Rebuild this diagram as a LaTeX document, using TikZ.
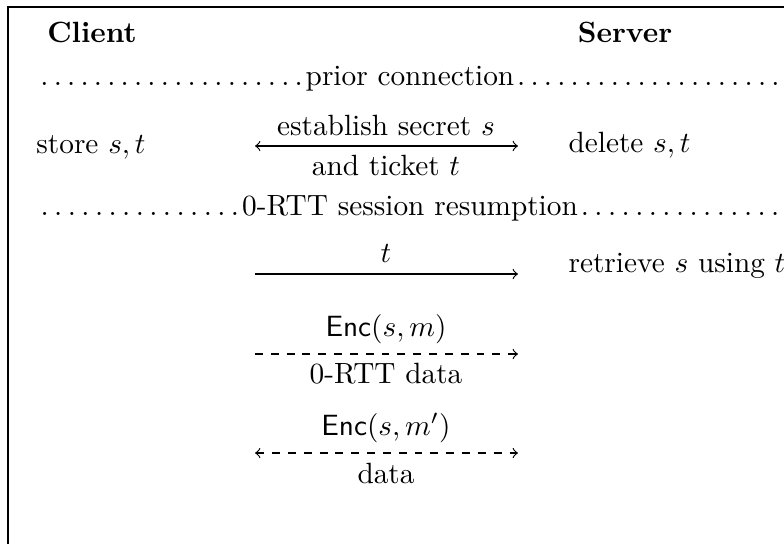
\documentclass[tikz,border=0pt]{standalone}
\usetikzlibrary{arrows}
% dot leaders that spread out to fill the whole gap
\newcommand\sepdots{\leavevmode\xleaders\hbox to .44em{\hss.\hss}\hfill\kern0pt}
\begin{document}
\begin{tikzpicture}[x=0.3413pt,y=-0.3413pt,
  lbl/.style={inner sep=0pt,anchor=base},
  lblw/.style={inner sep=0pt,anchor=base west},
  phase/.style={inner sep=0pt,anchor=base,text width=254.2pt},
  msg/.style={-to,line width=0.4pt},
  msgboth/.style={to-to,line width=0.4pt},
  msgdash/.style={dash pattern=on 2.7pt off 2.7pt}]
\useasboundingbox (0,0) rectangle (784,544);
% frame
\draw[line width=0.5pt] (8,544) -- (8,7) -- (790,7);
% party names
\node[lbl] (client) at (92,42) {\textbf{Client}};
\node[lbl] (server) at (625,42) {\textbf{Server}};
% phase separators
\node[phase] (prior) at (410,85) {\sepdots prior connection\sepdots};
\node[phase] (resume) at (410,215) {\sepdots 0-RTT session resumption\sepdots};
% prior connection
\node[lbl] (store) at (91,153) {store $s,t$};
\node[lblw] (delete) at (568,152) {delete $s,t$};
\coordinate (e1l) at (255,146);
\coordinate (e1r) at (518,146);
\draw[msgboth] (e1l) -- (e1r);
\node[lbl] (est) at (386,135) {establish secret $s$};
\node[lbl] (tick) at (386,175) {and ticket $t$};
% ticket
\coordinate (e2l) at (255,274);
\coordinate (e2r) at (518,274);
\draw[msg] (e2l) -- (e2r);
\node[lbl] (tlab) at (386,262) {$t$};
\node[lblw] (retr) at (568,272) {retrieve $s$ using $t$};
% early data
\coordinate (e3l) at (255,354);
\coordinate (e3r) at (518,354);
\draw[msg,msgdash] (e3l) -- (e3r);
\node[lbl] (enc1) at (386,336) {$\mathsf{Enc}(s,m)$};
\node[lbl] (zrtt) at (386,383) {0-RTT data};
% application data
\coordinate (e4l) at (255,453);
\coordinate (e4r) at (518,453);
\draw[msgboth,msgdash] (e4l) -- (e4r);
\node[lbl] (enc2) at (386,435) {$\mathsf{Enc}(s,m')$};
\node[lbl] (data) at (386,483) {data};
\end{tikzpicture}
\end{document}
